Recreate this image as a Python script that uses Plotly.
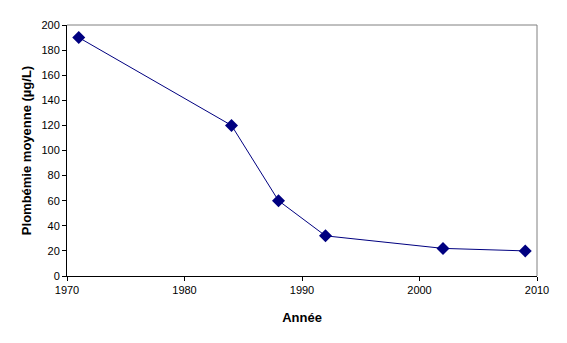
import plotly.graph_objects as go

years = [1971, 1984, 1988, 1992, 2002, 2009]
lead = [190, 120, 60, 32, 22, 20]
x_ticks = [1970, 1980, 1990, 2000, 2010]
y_ticks = [0, 20, 40, 60, 80, 100, 120, 140, 160, 180, 200]

fig = go.Figure()
fig.add_trace(go.Scatter(
    x=years, y=lead, mode="lines+markers",
    line=dict(color="#000080", width=1),
    marker=dict(symbol="diamond", size=10, color="#000080"),
    showlegend=False,
))

font = "Arial, Liberation Sans, sans-serif"
fig.update_layout(
    width=567, height=343,
    margin=dict(l=67, r=30, t=25, b=67),
    paper_bgcolor="white", plot_bgcolor="white",
    font=dict(family=font, size=11, color="black"),
    xaxis=dict(
        range=[1970, 2010], tickvals=x_ticks, showgrid=False, zeroline=False,
        showline=True, linecolor="black", linewidth=1, mirror=False,
        ticks="outside", ticklen=4, tickcolor="black",
        title=dict(text="<b>Année</b>", font=dict(size=13), standoff=17),
    ),
    yaxis=dict(
        range=[0, 200], tickvals=y_ticks, showgrid=False, zeroline=False,
        showline=True, linecolor="black", linewidth=1,
        ticks="outside", ticklen=4, tickcolor="black",
        title=dict(text="<b>Plombémie moyenne (µg/L)</b>", font=dict(size=13), standoff=6),
    ),
    shapes=[
        dict(type="line", xref="paper", yref="paper", x0=0, x1=1, y0=1, y1=1,
             line=dict(color="#808080", width=1)),
        dict(type="line", xref="paper", yref="paper", x0=1, x1=1, y0=0, y1=1,
             line=dict(color="#808080", width=1)),
    ],
)

fig.write_html("out.html")
